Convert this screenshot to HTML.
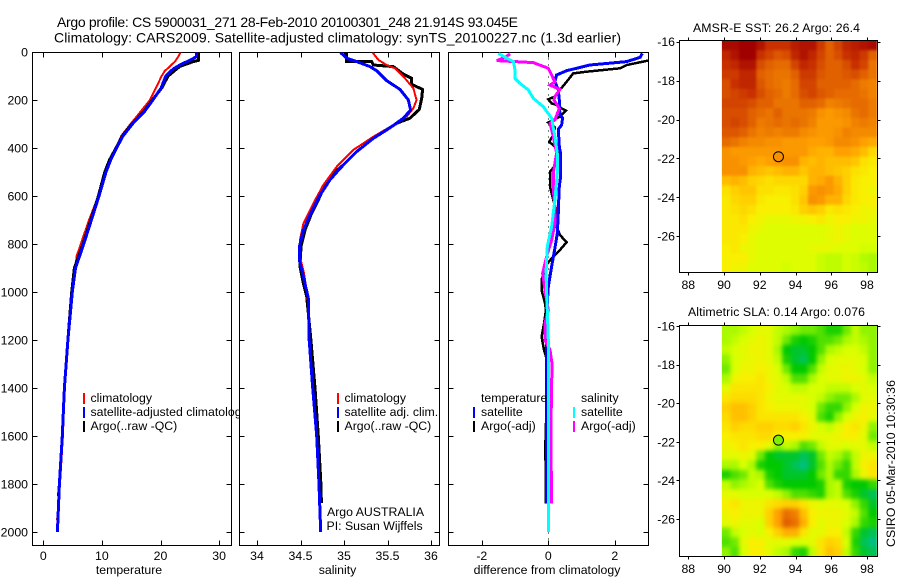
<!DOCTYPE html>
<html lang="en">
<head>
<meta charset="utf-8">
<title>Argo profile chart</title>
<style>
html,body{margin:0;padding:0;background:#fff;}
svg{display:block;}
text{font-family:"Liberation Sans",sans-serif;font-size:12.3px;fill:#000;}
.series{fill:none;stroke-linejoin:miter;shape-rendering:crispEdges;}
.frame{fill:none;stroke:#000;stroke-width:1;shape-rendering:crispEdges;}
.tick{stroke:#000;stroke-width:1;shape-rendering:crispEdges;}
.mark{shape-rendering:crispEdges;}
</style>
</head>
<body>
<svg id="chart" xmlns="http://www.w3.org/2000/svg" width="900" height="580" viewBox="0 0 900 580">
  <rect x="0" y="0" width="900" height="580" fill="#fff"/>
  <text x="57" y="27" style="font-size:14px" textLength="461" lengthAdjust="spacing">Argo profile: CS 5900031_271 28-Feb-2010 20100301_248 21.914S 93.045E</text>
  <text x="54" y="42.5" style="font-size:14px" textLength="567" lengthAdjust="spacing">Climatology: CARS2009. Satellite-adjusted climatology: synTS_20100227.nc (1.3d earlier)</text>

  <g id="panel-temp">
    <rect x="32.5" y="52.5" width="199" height="493" fill="#fff"/>
    <g id="temp-axes"></g>
    <g id="temp-series"></g>
    <g>
      <rect class="mark" x="83" y="393" width="2" height="11" fill="#f00"/>
      <text x="90.5" y="402">climatology</text>
      <rect class="mark" x="83" y="407" width="2" height="11" fill="#00f"/>
      <text x="90.5" y="416">satellite-adjusted climatology</text>
      <rect class="mark" x="83" y="421" width="2" height="11" fill="#000"/>
      <text x="90.5" y="430">Argo(..raw -QC)</text>
    </g>
    <text x="129" y="574" text-anchor="middle">temperature</text>
  </g>

  <g id="panel-sal">
    <rect x="239.5" y="52.5" width="200" height="493" fill="#fff"/>
    <rect x="239" y="380" width="1" height="60" fill="#fff"/>
    <g id="sal-axes"></g>
    <g id="sal-series"></g>
    <g>
      <rect class="mark" x="337" y="393" width="2" height="11" fill="#f00"/>
      <text x="344.5" y="402">climatology</text>
      <rect class="mark" x="337" y="407" width="2" height="11" fill="#00f"/>
      <text x="344.5" y="416">satellite adj. clim.</text>
      <rect class="mark" x="337" y="421" width="2" height="11" fill="#000"/>
      <text x="344.5" y="430">Argo(..raw -QC)</text>
      <text x="327" y="516">Argo AUSTRALIA</text>
      <text x="326.5" y="530">PI: Susan Wijffels</text>
    </g>
    <text x="337.5" y="574" text-anchor="middle">salinity</text>
  </g>

  <g id="panel-diff">
    <rect x="448.5" y="52.5" width="200" height="493" fill="#fff"/>
    <g id="diff-axes"></g>
    <g id="diff-series"></g>
    <g>
      <text x="481" y="402">temperature</text>
      <rect class="mark" x="473" y="407" width="2" height="11" fill="#00f"/>
      <text x="481" y="416">satellite</text>
      <rect class="mark" x="473" y="421" width="2" height="11" fill="#000"/>
      <text x="481" y="430">Argo(-adj)</text>
      <text x="581" y="402">salinity</text>
      <rect class="mark" x="573" y="407" width="2" height="11" fill="#0ff"/>
      <text x="581" y="416">satellite</text>
      <rect class="mark" x="573" y="421" width="2" height="11" fill="#f0f"/>
      <text x="581" y="430">Argo(-adj)</text>
    </g>
    <text x="547" y="574" text-anchor="middle">difference from climatology</text>
  </g>

  <g id="map-sst">
    <text x="776.5" y="32" text-anchor="middle" textLength="167" lengthAdjust="spacing">AMSR-E SST: 26.2 Argo: 26.4</text>
  </g>
  <g id="map-sla">
    <text x="776.5" y="316" text-anchor="middle" textLength="177" lengthAdjust="spacing">Altimetric SLA: 0.14 Argo: 0.076</text>
  </g>
  <text x="895" y="547" transform="rotate(-90 895 547)" textLength="167" lengthAdjust="spacing">CSIRO 05-Mar-2010 10:30:36</text>
</svg>

<script>
// ---- axis ticks ----
const depthTicks = [0, 200, 400, 600, 800, 1000, 1200, 1400, 1600, 1800, 2000];
const tempTicks = [0, 10, 20, 30];
const salTicks = [34, 34.5, 35, 35.5, 36];
const salTickLabels = ['34', '34.5', '35', '35.5', '36'];
const diffTicks = [-2, 0, 2];
const mapLonTicks = [88, 90, 92, 94, 96, 98];
const mapLatTicks = [-16, -18, -20, -22, -24, -26];

// ---- temperature profiles ----
const tempClimDepth = [0, 20, 40, 60, 80, 100, 200, 250, 300, 350, 400, 500, 600, 700, 800, 850, 1000, 1200, 1400, 1600, 1800, 1950];
const tempClimValue = [23.45, 23.0, 22.45, 21.6, 20.7, 20.2, 18.2, 16.55, 14.9, 13.3, 12.4, 10.5, 9.4, 7.8, 6.4, 5.7, 4.9, 4.25, 3.65, 3.35, 2.85, 2.35];
const tempSatDepth = [0, 20, 35, 50, 70, 100, 150, 200, 250, 300, 350, 400, 450, 500, 600, 700, 800, 900, 1000, 1200, 1400, 1600, 1800, 2000];
const tempSatValue = [26.2, 26.1, 25, 23.6, 22.2, 20.9, 20.1, 18.7, 17.2, 15.2, 13.6, 12.5, 11.5, 10.7, 9.5, 8.2, 6.9, 5.5, 4.95, 4.2, 3.6, 3.25, 2.75, 2.4];
const tempArgoDepth = [0, 35, 40, 60, 100, 150, 200, 250, 300, 350, 400, 450, 500, 600, 700, 800, 900, 1000, 1200, 1400, 1600, 1800, 1850];
const tempArgoValue = [26.45, 26.45, 25.6, 23.3, 21.3, 20.2, 18.6, 17.1, 15.1, 13.5, 12.4, 11.3, 10.5, 9.4, 8.1, 6.8, 5.3, 4.85, 4.2, 3.6, 3.25, 2.75, 2.6];

// ---- salinity profiles ----
const salClimDepth = [3, 33, 54, 68, 110, 151, 200, 235, 269, 304, 353, 408, 478, 554, 631, 714, 783, 853, 922, 1019, 1200, 1400, 1600, 1700, 1800, 1900];
const salClimValue = [35.33, 35.395, 35.49, 35.586, 35.701, 35.797, 35.835, 35.797, 35.72, 35.567, 35.337, 35.107, 34.916, 34.762, 34.647, 34.533, 34.494, 34.494, 34.54, 34.582, 34.605, 34.645, 34.69, 34.7, 34.71, 34.72];
const salSatDepth = [3, 26, 40, 61, 78, 119, 156, 200, 242, 276, 311, 360, 415, 485, 533, 596, 679, 742, 811, 867, 936, 1026, 1200, 1400, 1600, 1800, 2000];
const salSatValue = [34.962, 35.031, 35.146, 35.299, 35.375, 35.49, 35.644, 35.74, 35.766, 35.682, 35.548, 35.337, 35.146, 34.954, 34.839, 34.724, 34.609, 34.533, 34.487, 34.487, 34.533, 34.59, 34.6, 34.64, 34.686, 34.713, 34.732];
const salArgoDepth = [0, 40, 40, 54, 61, 92, 110, 135, 156, 193, 239, 276, 297, 325, 360, 415, 471, 506, 554, 617, 672, 742, 811, 894, 964, 1019, 1200, 1400, 1600, 1800, 1880];
const salArgoValue = [35.03, 35.03, 35.318, 35.337, 35.567, 35.682, 35.778, 35.778, 35.904, 35.893, 35.866, 35.759, 35.605, 35.49, 35.337, 35.146, 34.992, 34.877, 34.782, 34.705, 34.628, 34.552, 34.506, 34.494, 34.533, 34.571, 34.62, 34.667, 34.705, 34.735, 34.74];

// ---- differences from climatology ----
const diffTempArgoDepth = [36, 54, 68, 82, 89, 124, 158, 186, 197, 214, 221, 235, 244, 269, 294, 314, 346, 374, 394, 422, 457, 499, 561, 617, 672, 728, 762, 793, 825, 860, 894, 950, 992, 1047, 1075, 1131, 1186, 1242, 1269, 1339, 1547, 1644, 1728, 1881];
const diffTempArgoValue = [3.0, 2.36, 2.16, 1.15, 0.75, 0.55, 0.35, 0.2, 0, 0.1, 0.25, 0.4, 0.53, 0.35, 0, 0.2, 0.15, 0.03, 0.2, 0.37, 0.3, 0.05, 0.05, 0.15, 0.27, 0.25, 0.35, 0.55, 0.35, 0.1, -0.1, -0.2, -0.2, -0.1, -0.07, -0.13, -0.2, -0.13, -0.07, -0.05, -0.07, -0.09, -0.08, -0.07];
const diffTempSatDepth = [6, 22, 40, 54, 78, 96, 124, 158, 200, 262, 276, 304, 322, 394, 422, 492, 519, 561, 631, 672, 756, 818, 894, 978, 1100, 1471, 1880];
const diffTempSatValue = [2.83, 2.76, 2.36, 1.25, 0.55, 0.25, 0.2, 0.3, 0.33, 0.35, 0.43, 0.4, 0.3, 0.33, 0.37, 0.37, 0.37, 0.33, 0.31, 0.3, 0.27, 0.2, 0.1, 0, -0.05, -0.06, -0.06];
const diffSalArgoDepth = [8, 22, 36, 44, 68, 96, 124, 138, 156, 186, 200, 235, 283, 297, 353, 422, 464, 506, 575, 644, 714, 783, 853, 922, 992, 1075, 1131, 1200, 1242, 1297, 1547, 1686, 1825, 1881];
const diffSalArgoValue = [-1.15, -1.3, -1.55, -0.45, 0, 0.1, 0.2, 0.05, 0.35, 0.2, 0.17, 0.33, 0.2, 0.05, 0.15, 0.25, 0.2, 0.15, 0.15, 0.2, 0.2, 0.1, -0.05, -0.17, -0.1, 0, -0.1, -0.1, 0.05, 0.11, 0.08, 0.08, 0.1, 0.1];
const diffSalSatDepth = [6, 22, 40, 75, 110, 131, 158, 193, 228, 276, 353, 422, 506, 617, 728, 811, 922, 992, 1075, 1200, 1547, 1999];
const diffSalSatValue = [-1.5, -1.3, -1.05, -1, -1, -0.85, -0.6, -0.45, -0.15, 0.1, 0.2, 0.27, 0.27, 0.2, 0.1, -0.03, -0.07, -0.05, -0.03, 0, 0, 0];

// ---- satellite maps (north to south, west to east) ----
const sstGrid = [
[27.9,27.9,28,28,27.8,27.5,27.5,27.5,27.7,27.8,27.8,27.4,27.0,27.3,27.6,27.7,27.8,27.9],
[27.6,27.8,28,28,27.5,27.3,27.1,27.2,27.6,27.8,27.6,27.3,27.0,27.2,27.5,27.6,27.4,27.0],
[27.5,27.6,27.8,27.8,27.2,27.0,26.9,26.9,27.3,27.6,27.5,27.2,27.0,27.0,27.2,27.5,27.3,26.8],
[27.4,27.4,27.6,27.6,27.0,26.9,26.8,26.8,27.0,27.4,27.4,27.1,27.0,27.0,27.1,27.2,27.0,26.8],
[27.2,27.5,27.6,27.6,27.1,26.9,26.8,26.7,26.9,27.3,27.3,27.0,27.0,27.0,27.0,26.9,26.7,26.6],
[27.2,27.3,27.4,27.5,27.2,27.0,26.9,26.7,26.9,27.2,27.3,27.1,27.0,26.9,26.9,26.9,26.8,26.6],
[27.3,27.3,27.3,27.2,27.0,27.0,26.8,26.8,26.8,27.0,27.0,26.9,26.6,26.7,26.8,26.9,26.9,26.7],
[27.2,27.2,27.2,27.0,26.9,26.8,27.0,26.8,26.8,26.8,26.7,26.4,26.3,26.4,26.5,26.8,26.9,26.7],
[27.2,27.3,27.2,27.0,26.7,26.8,26.9,26.8,26.9,26.8,26.6,26.3,26.3,26.3,26.4,26.6,26.7,26.6],
[27.1,27.1,27.0,26.8,26.6,26.7,26.6,26.7,26.7,26.5,26.4,26.3,26.3,26.4,26.6,26.5,26.5,26.5],
[26.9,26.8,26.6,26.5,26.5,26.4,26.4,26.3,26.3,26.3,26.2,26.2,26.3,26.5,26.5,26.4,26.2,26.1],
[26.4,26.3,26.3,26.3,26.3,26.3,26.3,26.3,26.3,26.3,26.1,26.0,26.0,26.2,26.2,26.1,25.9,25.6],
[26.4,26.4,26.3,26.2,26.1,26.2,26.3,26.4,26.4,26.0,25.9,26.0,25.9,25.9,25.9,25.8,25.5,25.4],
[26.4,26.4,26.4,26.0,25.9,25.8,25.9,26.0,26.0,25.8,26.0,26.0,25.9,25.8,25.7,25.5,25.4,25.3],
[25.9,26.0,25.9,25.7,25.6,25.5,25.6,25.6,25.6,25.6,26.0,26.1,26.3,26.0,25.7,25.4,25.3,25.3],
[25.5,25.7,25.8,25.8,25.5,25.5,25.4,25.4,25.5,25.7,26.3,26.4,26.3,26.1,25.7,25.4,25.3,25.2],
[25.4,25.6,25.7,25.7,25.4,25.3,25.3,25.3,25.5,25.8,26.4,26.3,26.0,26.0,25.6,25.4,25.3,25.3],
[25.4,25.5,25.6,25.5,25.3,25.3,25.3,25.3,25.4,25.7,25.8,25.7,25.4,25.5,25.4,25.3,25.2,25.2],
[25.4,25.4,25.5,25.3,25.2,25.1,25.1,25.1,25.2,25.2,25.3,25.4,25.2,25.3,25.3,25.2,25.2,25.1],
[25.4,25.4,25.4,25.2,25.1,25.0,25.0,25.0,25.0,25.0,25.0,25.0,25.1,25.2,25.1,25.0,25.0,25.0],
[25.4,25.4,25.3,25.1,25.0,25.0,25.0,25.0,25.0,25.0,25.0,25.0,25.1,25.2,25.1,25.0,25.0,25.0],
[25.3,25.4,25.2,25.1,25.0,25.0,25.0,25.0,25.0,25.0,25.1,25.1,25.1,25.0,25.0,25.0,24.9,24.9],
[25.3,25.3,25.3,25.1,25.0,25.0,25.0,25.0,25.0,25.0,25.0,24.8,24.7,24.7,24.9,24.8,24.6,24.5],
[25.3,25.2,25.2,25.0,25.0,25.0,25.0,24.9,25.0,25.0,25.0,24.8,24.7,24.7,24.9,24.8,24.7,24.5]
];
const slaGrid = [
[.09,.09,.10,.11,.12,.12,.10,.09,.08,.07,.07,.06,.04,.04,.07,.10,.08,.08],
[.09,.10,.11,.12,.13,.12,.10,.07,.04,.03,.04,.06,.06,.07,.09,.10,.09,.08],
[.10,.11,.12,.13,.13,.12,.09,.03,.02,.02,.03,.06,.09,.10,.11,.11,.10,.08],
[.08,.11,.12,.13,.13,.12,.10,.04,.02,.01,.03,.08,.11,.12,.12,.12,.11,.08],
[.07,.11,.13,.13,.14,.13,.11,.07,.03,.03,.06,.10,.12,.12,.13,.12,.11,.08],
[.09,.13,.14,.14,.15,.13,.12,.10,.06,.06,.09,.11,.12,.12,.13,.13,.12,.10],
[.12,.15,.15,.15,.15,.14,.12,.11,.10,.10,.11,.11,.10,.10,.10,.11,.12,.11],
[.15,.16,.16,.16,.15,.13,.12,.12,.12,.12,.11,.10,.08,.07,.07,.09,.12,.12],
[.17,.18,.18,.17,.15,.14,.13,.13,.13,.12,.11,.07,.05,.05,.08,.11,.13,.13],
[.16,.18,.18,.17,.15,.15,.15,.15,.15,.14,.12,.06,.04,.08,.11,.13,.14,.12],
[.15,.17,.16,.16,.17,.17,.16,.16,.17,.15,.13,.11,.10,.12,.14,.15,.13,.08],
[.14,.15,.15,.15,.16,.16,.14,.14,.14,.14,.12,.12,.12,.13,.14,.14,.12,.07],
[.13,.14,.15,.14,.14,.12,.08,.10,.09,.06,.07,.10,.12,.12,.11,.12,.12,.10],
[.12,.12,.13,.12,.07,.03,.02,.02,.02,.01,.02,.07,.10,.09,.07,.10,.13,.13],
[.09,.09,.11,.09,.04,.03,.03,.02,.01,.00,.02,.06,.09,.07,.05,.10,.14,.15],
[.04,.06,.07,.10,.09,.04,.03,.02,.02,.02,.03,.07,.09,.05,.05,.09,.13,.15],
[.10,.08,.09,.10,.11,.06,.04,.03,.03,.03,.03,.04,.09,.10,.04,.03,.03,.05],
[.12,.12,.11,.11,.11,.11,.10,.08,.06,.06,.05,.04,.09,.10,.06,.04,.02,.01],
[.14,.15,.13,.13,.13,.15,.16,.17,.17,.15,.13,.12,.12,.12,.11,.08,.05,.02],
[.13,.14,.13,.13,.13,.17,.20,.23,.22,.18,.14,.13,.13,.13,.12,.10,.06,.03],
[.12,.13,.12,.12,.11,.17,.20,.24,.23,.19,.14,.12,.13,.13,.11,.09,.05,.04],
[.07,.10,.11,.12,.11,.14,.17,.19,.19,.15,.12,.12,.14,.14,.10,.05,.02,.01],
[.06,.07,.12,.14,.14,.12,.12,.12,.11,.11,.12,.15,.17,.16,.11,.04,.01,.00],
[.08,.06,.11,.14,.14,.12,.10,.09,.05,.04,.10,.15,.18,.17,.10,.05,.02,.01]
];
const profileLon = 93.045;
const profileLat = -21.914;
const sstArgoValue = 26.4;
const slaArgoValue = 0.076;

const SVGNS = 'http://www.w3.org/2000/svg';
function make(tag, attrs, parent) {
  const el = document.createElementNS(SVGNS, tag);
  for (const k in attrs) el.setAttribute(k, attrs[k]);
  parent.appendChild(el);
  return el;
}

// axis functions
const depthY = d => 52 + d * 0.24;
const tempX = v => 43.3 + v * 5.86;
const salX = v => 257 + (v - 34) * 87;
const diffX = v => 548.3 + v * 33.25;
const lonX = lon => 688.3 + (lon - 88) * 17.87;
const latYSst = lat => 41.7 + (-16 - lat) * 19.45;
const latYSla = lat => 326 + (-16 - lat) * 19.3;

function hexToRgb(h) { return [parseInt(h.slice(1,3),16), parseInt(h.slice(3,5),16), parseInt(h.slice(5,7),16)]; }
const rampColors = ['#00c080','#00c800','#50e000','#a0f800','#d8ff00','#f8f000','#ffd000','#ffa000','#e87000','#c83000','#a00000'];
const sstDomain = [23, 23.5, 24, 24.4, 24.95, 25.3, 25.7, 26.2, 26.85, 27.5, 28];
const slaDomain = [0, .03, .06, .085, .11, .14, .17, .20, .23, .27, .30];
function colorFor(v, dom) {
  let i = 0;
  while (i < dom.length - 2 && v > dom[i + 1]) i++;
  const t = Math.max(0, Math.min(1, (v - dom[i]) / (dom[i + 1] - dom[i])));
  const a = hexToRgb(rampColors[i]), b = hexToRgb(rampColors[i + 1]);
  return 'rgb(' + a.map((c, n) => Math.round(c + (b[n] - c) * t)).join(',') + ')';
}

function drawSeries(parent, name, depths, values, xFn, color, width, clipId) {
  const pts = depths.map((d, i) => xFn(values[i]).toFixed(1) + ',' + depthY(d).toFixed(1)).join(' ');
  const el = make('polyline', { points: pts, stroke: color, 'stroke-width': width, class: 'series', 'clip-path': 'url(#' + clipId + ')' }, parent);
  
  
}

function addClip(id, x, y, w, h) {
  const root = document.getElementById('chart');
  const c = make('clipPath', { id: id }, root);
  make('rect', { x: x, y: y, width: w, height: h }, c);
}

function drawProfileAxes(parent, left, right, xTicks, xLabels, xFn, showDepthLabels) {
  const top = 52.5, bottom = 545.5, len = 5;
  const frame = make('rect', { x: left, y: top, width: right - left, height: bottom - top, class: 'frame' }, parent);
  
  
  depthTicks.forEach(d => {
    const y = Math.round(depthY(d)) + 0.5;
    const a = make('line', { x1: left, x2: left + len, y1: y, y2: y, class: 'tick' }, parent);
    
    
    const b = make('line', { x1: right - len, x2: right, y1: y, y2: y, class: 'tick' }, parent);
    
    
    if (showDepthLabels) {
      const t = make('text', { x: 28, y: depthY(d) + 4.5, 'text-anchor': 'end' }, parent);
      t.textContent = String(d);
      
      
    }
  });
  xTicks.forEach((v, i) => {
    const x = Math.round(xFn(v)) + 0.5;
    const a = make('line', { x1: x, x2: x, y1: top, y2: top + len, class: 'tick' }, parent);
    
    
    const b = make('line', { x1: x, x2: x, y1: bottom - len, y2: bottom, class: 'tick' }, parent);
    
    
    const t = make('text', { x: xFn(v), y: 560, 'text-anchor': 'middle' }, parent);
    t.textContent = xLabels[i];
    
    
  });
}

function drawMap(parent, prefix, grid, domain, latY, argoValue, top, bottom, labelY, softness) {
  const west = 89.88, east = 98.55;
  const rows = grid.length, cols = grid[0].length;
  const x0 = lonX(west), x1 = lonX(east);
  const cw = (x1 - x0) / cols, ch = (bottom - top) / rows;
  const left = 679.5, right = 877.5;
  const pad = 10;
  addClip(prefix + '-map-clip', x0, top, x1 - x0, bottom - top);
  const root = document.getElementById('chart');
  const filter = make('filter', {
    id: prefix + '-soften', filterUnits: 'userSpaceOnUse',
    x: x0 - pad, y: top - pad, width: x1 - x0 + 2 * pad, height: bottom - top + 2 * pad,
    'color-interpolation-filters': 'sRGB'
  }, root);
  make('feGaussianBlur', { stdDeviation: softness }, filter);
  const clipGroup = make('g', { 'clip-path': 'url(#' + prefix + '-map-clip)' }, parent);
  
  
  const cells = make('g', { filter: 'url(#' + prefix + '-soften)' }, clipGroup);
  
  
  grid.forEach((row, r) => {
    row.forEach((v, c) => {
      const cx = x0 + c * cw - (c === 0 ? pad : 0);
      const cy = top + r * ch - (r === 0 ? pad : 0);
      const cwFull = cw + 0.5 + (c === 0 || c === cols - 1 ? pad : 0);
      const chFull = ch + 0.5 + (r === 0 || r === rows - 1 ? pad : 0);
      const cell = make('rect', {
        x: cx.toFixed(2), y: cy.toFixed(2),
        width: cwFull.toFixed(2), height: chFull.toFixed(2),
        fill: colorFor(v, domain)
      }, cells);
      
      
    });
  });
  const frame = make('rect', { x: left, y: top, width: right - left, height: bottom - top, class: 'frame' }, parent);
  
  
  mapLonTicks.forEach(lon => {
    const x = Math.round(lonX(lon)) + 0.5;
    const a = make('line', { x1: x, x2: x, y1: top - 3, y2: top, class: 'tick' }, parent);
    
    
    const b = make('line', { x1: x, x2: x, y1: bottom, y2: bottom + 3, class: 'tick' }, parent);
    
    
    const t = make('text', { x: lonX(lon), y: labelY, 'text-anchor': 'middle' }, parent);
    t.textContent = String(lon);
    
    
  });
  mapLatTicks.forEach(lat => {
    const y = Math.round(latY(lat)) + 0.5;
    const a = make('line', { x1: left - 3, x2: left, y1: y, y2: y, class: 'tick' }, parent);
    
    
    const b = make('line', { x1: right, x2: right + 3, y1: y, y2: y, class: 'tick' }, parent);
    
    
    const t = make('text', { x: 675, y: latY(lat) + 4.5, 'text-anchor': 'end' }, parent);
    t.textContent = String(lat);
    
    
  });
  const dot = make('circle', { cx: lonX(profileLon), cy: latY(profileLat), r: 5, fill: colorFor(argoValue, domain), stroke: '#000', 'stroke-width': 1 }, parent);
  
  
}

addClip('clip-temp', 32.5, 52.5, 199, 493);
addClip('clip-sal', 239.5, 52.5, 200, 493);
addClip('clip-diff', 448.5, 52.5, 200, 493);

const tempAxes = document.getElementById('temp-axes');
const salAxes = document.getElementById('sal-axes');
const diffAxes = document.getElementById('diff-axes');
drawProfileAxes(tempAxes, 32.5, 231.5, tempTicks, tempTicks.map(String), tempX, true);
drawProfileAxes(salAxes, 239.5, 439.5, salTicks, salTickLabels, salX, false);
drawProfileAxes(diffAxes, 448.5, 648.5, diffTicks, diffTicks.map(String), diffX, false);

const tempS = document.getElementById('temp-series');
drawSeries(tempS, 'temperature-climatology-line', tempClimDepth, tempClimValue, tempX, '#f00', 2, 'clip-temp');
drawSeries(tempS, 'temperature-argo-line', tempArgoDepth, tempArgoValue, tempX, '#000', 3, 'clip-temp');
drawSeries(tempS, 'temperature-satellite-line', tempSatDepth, tempSatValue, tempX, '#00f', 3, 'clip-temp');

const salS = document.getElementById('sal-series');
drawSeries(salS, 'salinity-argo-line', salArgoDepth, salArgoValue, salX, '#000', 3, 'clip-sal');
drawSeries(salS, 'salinity-climatology-line', salClimDepth, salClimValue, salX, '#f00', 2, 'clip-sal');
drawSeries(salS, 'salinity-satellite-line', salSatDepth, salSatValue, salX, '#00f', 3, 'clip-sal');

const diffS = document.getElementById('diff-series');
const zeroLine = make('line', { x1: diffX(0), x2: diffX(0), y1: 52.5, y2: 545.5, stroke: '#000', 'stroke-width': 1, 'stroke-dasharray': '1 5', class: 'tick' }, diffS);


drawSeries(diffS, 'difference-temperature-argo-line', diffTempArgoDepth, diffTempArgoValue, diffX, '#000', 2.5, 'clip-diff');
drawSeries(diffS, 'difference-temperature-satellite-line', diffTempSatDepth, diffTempSatValue, diffX, '#00f', 3, 'clip-diff');
drawSeries(diffS, 'difference-salinity-argo-line', diffSalArgoDepth, diffSalArgoValue, diffX, '#f0f', 3, 'clip-diff');
drawSeries(diffS, 'difference-salinity-satellite-line', diffSalSatDepth, diffSalSatValue, diffX, '#0ff', 3, 'clip-diff');

drawMap(document.getElementById('map-sst'), 'sst', sstGrid, sstDomain, latYSst, sstArgoValue, 40.5, 272.5, 289, 1.4);
drawMap(document.getElementById('map-sla'), 'sla', slaGrid, slaDomain, latYSla, slaArgoValue, 325.5, 556.5, 573, 2.0);
</script>
</body>
</html>
